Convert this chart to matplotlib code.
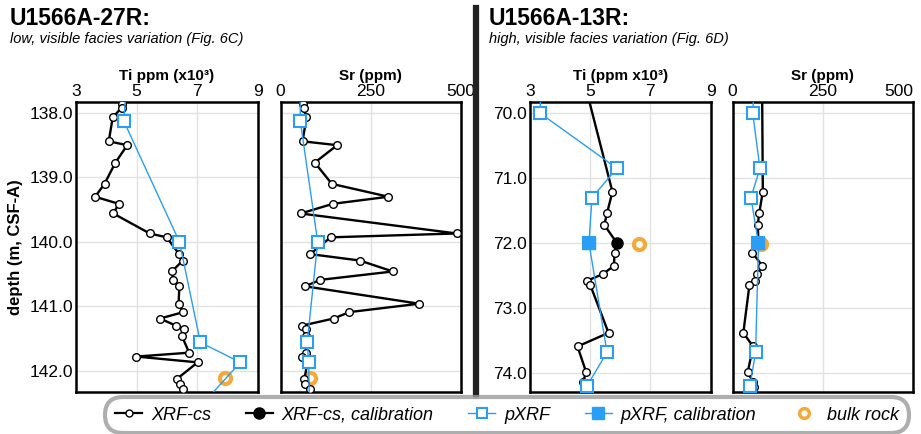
import numpy as np
import matplotlib
matplotlib.use('Agg')
import matplotlib.pyplot as plt
from matplotlib.lines import Line2D

plt.rcParams['font.family'] = ['Liberation Sans', 'DejaVu Sans']

# ---- U1566A-27R ----
d27_xrf = [137.855, 137.92, 138.07, 138.44, 138.50, 138.77, 139.10, 139.30, 139.41, 139.56,
           139.87, 139.93, 140.19, 140.29, 140.46, 140.59, 140.69, 140.96, 141.09, 141.19,
           141.30, 141.36, 141.46, 141.72, 141.78, 141.87, 142.13, 142.21, 142.29, 142.40]
ti27_xrf = [4.52, 4.50, 4.21, 4.08, 4.69, 4.30, 3.94, 3.63, 4.41, 4.23,
            5.43, 5.99, 6.40, 6.52, 6.16, 6.21, 6.41, 6.38, 6.54, 5.77,
            6.29, 6.57, 6.49, 6.73, 4.99, 7.01, 6.32, 6.43, 6.54, 6.75]
sr27_xrf = [61, 64, 72, 61, 157, 95, 142, 299, 145, 56,
            488, 139, 82, 220, 311, 110, 68, 384, 191, 147,
            60, 70, 72, 72, 60, 75, 66, 67, 82, 85]

d27_pxrf = [137.6, 138.13, 140.0, 141.56, 141.87, 142.5]
ti27_pxrf = [4.65, 4.58, 6.41, 7.10, 8.42, 7.20]
sr27_pxrf = [54, 55, 103, 74, 78, 80]

d27_bulk = [142.11]
ti27_bulk = [7.92]
sr27_bulk = [82]

# ---- U1566A-13R ----
d13_xrf = [69.6, 71.21, 71.54, 71.72, 72.0, 72.15, 72.35, 72.48, 72.58, 72.64,
           73.38, 73.59, 73.99, 74.13, 74.22, 74.40]
ti13_xrf = [4.85, 5.74, 5.56, 5.47, 5.89, 5.81, 5.79, 5.41, 4.89, 5.00,
            5.61, 4.58, 4.87, 4.76, 4.90, 5.00]
sr13_xrf = [82, 84, 74, 70, 72, 55, 83, 67, 62, 47,
            30, 57, 42, 57, 60, 62]

d13_xrf_cal = [72.0]
ti13_xrf_cal = [5.89]
sr13_xrf_cal = [72]

d13_pxrf = [69.7, 70.0, 70.85, 71.3, 72.0, 73.68, 74.2, 74.5]
ti13_pxrf = [3.36, 3.33, 5.89, 5.06, 4.96, 5.56, 4.89, 5.00]
sr13_pxrf = [59, 56, 76, 51, 72, 64, 48, 50]

d13_pxrf_cal = [72.0]
ti13_pxrf_cal = [4.96]
sr13_pxrf_cal = [72]

d13_bulk = [72.02]
ti13_bulk = [6.61]
sr13_bulk = [79]

BLUE = '#2a9df4'
ORANGE = '#f5a93a'

W, H = 921, 434
fig = plt.figure(figsize=(W/100, H/100), dpi=100)

def px_axes(x0, x1, y0, y1):
    return fig.add_axes([x0/W, 1 - y1/H, (x1 - x0)/W, (y1 - y0)/H])

def style_axes(ax, xlim, xticks, ylim, yticks, xlabel, ylabels):
    ax.set_xlim(xlim)
    ax.set_ylim(ylim)
    ax.set_xticks(xticks)
    ax.set_yticks(yticks)
    ax.xaxis.tick_top()
    ax.xaxis.set_label_position('top')
    ax.set_xlabel(xlabel, fontsize=11, fontweight='bold', labelpad=3)
    ax.tick_params(length=0, labelsize=12.5, pad=2)
    if ylabels:
        ax.set_yticklabels(['%.1f' % t for t in yticks])
    else:
        ax.set_yticklabels([])
    ax.grid(True, color='#e2e2e2', lw=1)
    ax.set_axisbelow(True)
    for s in ax.spines.values():
        s.set_linewidth(1.8)

def plot_xrf(ax, x, d):
    ax.plot(x, d, '-o', color='black', lw=1.7, ms=5.5, mfc='white', mec='black', mew=1.0, zorder=3)

def plot_pxrf(ax, x, d):
    ax.plot(x, d, '-s', color=BLUE, lw=1.0, ms=8, mfc='white', mec=BLUE, mew=1.5, zorder=4)

def plot_bulk(ax, x, d):
    ax.plot(x, d, 'o', ms=8, mfc='white', mec=ORANGE, mew=3, zorder=2.5, ls='none')

# core 27R
ax1 = px_axes(76, 258, 102, 392)
style_axes(ax1, (3, 9), [3, 5, 7, 9], (142.33, 137.83), [138, 139, 140, 141, 142],
           'Ti ppm (x10³)', True)
ax1.set_ylabel('depth (m, CSF-A)', fontsize=12, fontweight='bold', labelpad=5)
plot_bulk(ax1, ti27_bulk, d27_bulk)
plot_xrf(ax1, ti27_xrf, d27_xrf)
plot_pxrf(ax1, ti27_pxrf, d27_pxrf)

ax2 = px_axes(280.5, 461, 102, 392)
style_axes(ax2, (0, 500), [0, 250, 500], (142.33, 137.83), [138, 139, 140, 141, 142],
           'Sr (ppm)', False)
plot_bulk(ax2, sr27_bulk, d27_bulk)
plot_xrf(ax2, sr27_xrf, d27_xrf)
plot_pxrf(ax2, sr27_pxrf, d27_pxrf)

# core 13R
ax3 = px_axes(530, 710.5, 102, 392)
style_axes(ax3, (3, 9), [3, 5, 7, 9], (74.29, 69.83), [70, 71, 72, 73, 74],
           'Ti (ppm x10³)', True)
plot_bulk(ax3, ti13_bulk, d13_bulk)
plot_xrf(ax3, ti13_xrf, d13_xrf)
plot_pxrf(ax3, ti13_pxrf, d13_pxrf)
ax3.plot(ti13_xrf_cal, d13_xrf_cal, 'o', color='black', ms=8, zorder=5)
ax3.plot(ti13_pxrf_cal, d13_pxrf_cal, 's', color=BLUE, ms=8, zorder=5)

ax4 = px_axes(732.5, 913, 102, 392)
style_axes(ax4, (0, 500), [0, 250, 500], (74.29, 69.83), [70, 71, 72, 73, 74],
           'Sr (ppm)', False)
plot_bulk(ax4, sr13_bulk, d13_bulk)
plot_xrf(ax4, sr13_xrf, d13_xrf)
plot_pxrf(ax4, sr13_pxrf, d13_pxrf)
ax4.plot(sr13_xrf_cal, d13_xrf_cal, 'o', color='black', ms=8, zorder=5)
ax4.plot(sr13_pxrf_cal, d13_pxrf_cal, 's', color=BLUE, ms=8, zorder=5)
# keep the last tick label inside the figure
ax4.get_xticklabels()[-1].set_horizontalalignment('right')
ax4.get_xticklabels()[-1].set_x(508)

# headers
fig.text(10/W, 1 - 7/H, 'U1566A-27R:', fontsize=16.5, fontweight='bold', va='top')
fig.text(10/W, 1 - 32/H, 'low, visible facies variation (Fig. 6C)', fontsize=10.5,
         style='italic', va='top')
fig.text(489/W, 1 - 7/H, 'U1566A-13R:', fontsize=16.5, fontweight='bold', va='top')
fig.text(489/W, 1 - 32/H, 'high, visible facies variation (Fig. 6D)', fontsize=10.5,
         style='italic', va='top')

# divider between the two cores
fig.add_artist(Line2D([476/W, 476/W], [1 - 8/H, 1 - 396/H], lw=4.5, color='#222222'))

# legend
handles = [
    Line2D([], [], color='black', lw=1.6, marker='o', ms=5, mfc='white', mec='black'),
    Line2D([], [], color='black', lw=1.6, marker='o', ms=8, mfc='black', mec='black'),
    Line2D([], [], color=BLUE, lw=1.0, marker='s', ms=7, mfc='white', mec=BLUE, mew=1.5),
    Line2D([], [], color=BLUE, lw=1.0, marker='s', ms=8, mfc=BLUE, mec=BLUE),
    Line2D([], [], ls='none', marker='o', ms=7, mfc='white', mec=ORANGE, mew=2.5),
]
labels = ['XRF-cs', 'XRF-cs, calibration', 'pXRF', 'pXRF, calibration', 'bulk rock']
leg = fig.legend(handles, labels, ncol=5, loc='center', bbox_to_anchor=(507/W, 1 - 415/H),
                 prop={'style': 'italic', 'size': 13},
                 handlelength=1.5, handletextpad=0.5, columnspacing=1.9,
                 borderpad=0.3, fancybox=True, frameon=True)
frame = leg.get_frame()
frame.set_edgecolor('#9a9a9a')
frame.set_linewidth(3)
frame.set_boxstyle('round,pad=0.25,rounding_size=1.0')

fig.savefig('out.png', dpi=100)
